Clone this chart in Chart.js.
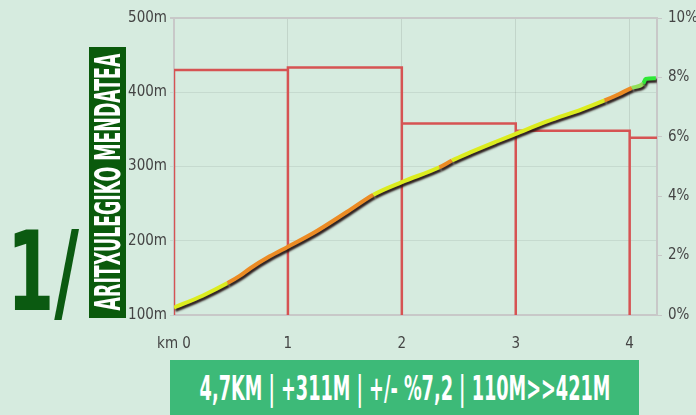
<!DOCTYPE html>
<html>
<head>
<meta charset="utf-8">
<script src="https://cdn.jsdelivr.net/npm/chart.js@4.4.0/dist/chart.umd.min.js"></script>
<style>
  html, body { margin: 0; padding: 0; }
  body { width: 696px; height: 415px; background: #d6ebdf; position: relative; overflow: hidden;
         font-family: 'Liberation Sans Narrow', 'DejaVu Sans Condensed', sans-serif; }
  #profile { position: absolute; left: 0; top: 0; }
  .holder { position: absolute; }
  .fit { position: absolute; left: 50%; top: 50%; white-space: nowrap; font-weight: bold; line-height: 1; }
  .big { left: 6px; top: 226px; width: 74px; height: 92px; }
  .big .fit { color: #0b5a11; font-size: 110px; }
  .nameBox { left: 89px; top: 47px; width: 37px; height: 271px; background: #0a5a0c; }
  .nameBox .rot { position: absolute; left: -117px; top: 117px; width: 271px; height: 37px; transform: rotate(-90deg); }
  .nameBox .fit { color: #fff; font-size: 35px; }
  .banner { left: 170px; top: 360px; width: 469px; height: 55px; background: #3dba78; }
  .banner .fit { color: #fff; font-size: 33px; }
</style>
</head>
<body>
<canvas id="profile" width="696" height="415"></canvas>
<div class="holder big"><span class="fit" id="num">1/</span></div>
<div class="holder nameBox"><div class="rot"><span class="fit" id="name">ARITXULEGIKO MENDATEA</span></div></div>
<div class="holder banner"><span class="fit" id="stats">4,7KM | +311M | +/- %7,2 | 110M&gt;&gt;421M</span></div>
<script>
// ticks
const kmTicks = [0, 1, 2, 3, 4];
const elevTicks = [100, 200, 300, 400, 500];
const gradeTicks = [0, 2, 4, 6, 8, 10];

// elevation profile (km, m)
const profileKm = [0, 0.25, 0.47, 0.58, 0.67, 0.84, 1.0, 1.22, 1.52, 1.75, 2.0, 2.33, 2.44, 2.6, 2.82, 3.0, 3.28, 3.58, 3.78, 3.9, 4.02, 4.12, 4.14, 4.23];
const profileElev = [110, 126, 143, 153, 163, 179, 192, 210, 239, 262, 279, 299, 308, 319, 333, 344, 361, 377, 389, 397, 406, 412, 418, 419];

// colour bands along the line (start km + gradient class)
const bandStart = [0, 0.47, 1.75, 2.33, 2.44, 3.78, 4.02, 4.12];
const bandLevel = ['mid', 'steep', 'mid', 'steep', 'mid', 'steep', 'mild', 'low'];

// average gradient per km (%)
const stepKm = [0, 1, 2, 3, 4, 4.24];
const stepGrade = [8.25, 8.33, 6.45, 6.2, 5.97];

const levelColor = { low: '#2ee836', mild: '#93e05a', mid: '#dcec1f', steep: '#ec8b24' };

function bandAt(km) {
    let lvl = bandLevel[0];
    for (let i = 0; i < bandStart.length; i++) {
        if (km >= bandStart[i] - 1e-9) lvl = bandLevel[i];
    }
    return lvl;
}

// step outline: up at each km mark, then across
const stepPoints = [];
for (let i = 0; i < stepGrade.length; i++) {
    stepPoints.push({ x: stepKm[i], y: 0 });
    stepPoints.push({ x: stepKm[i], y: stepGrade[i] });
    stepPoints.push({ x: stepKm[i + 1], y: stepGrade[i] });
}

const tickFont = { family: "'Liberation Sans Narrow', 'DejaVu Sans Condensed', sans-serif", size: 15 };
const frame = '#c8c8c8';

const shadowPlugin = {
    id: 'lineShadow',
    beforeDatasetDraw(chart, args) {
        if (args.index !== 0) return;
        const c = chart.ctx;
        c.save();
        c.shadowColor = 'rgba(35,18,18,0.95)';
        c.shadowOffsetX = 1.5;
        c.shadowOffsetY = 2.5;
        c.shadowBlur = 2;
    },
    afterDatasetDraw(chart, args) {
        if (args.index === 0) chart.ctx.restore();
    }
};

new Chart(document.getElementById('profile'), {
    type: 'line',
    data: {
        datasets: [{
            data: profileKm.map((k, i) => ({ x: k, y: profileElev[i] })),
            yAxisID: 'y',
            borderWidth: 4,
            borderColor: levelColor.mid,
            pointRadius: 0,
            cubicInterpolationMode: 'monotone',
            segment: {
                borderColor: ctx => levelColor[bandAt(ctx.p0.parsed.x)]
            }
        }, {
            data: stepPoints,
            yAxisID: 'y1',
            borderColor: '#d65353',
            borderWidth: 2.5,
            pointRadius: 0,
            tension: 0
        }]
    },
    options: {
        responsive: false,
        animation: false,
        layout: { padding: { top: 18, left: 0, right: 0, bottom: 0 } },
        plugins: { legend: { display: false }, tooltip: { enabled: false } },
        scales: {
            x: {
                type: 'linear',
                min: 0,
                max: 4.24,
                afterBuildTicks: s => { s.ticks = kmTicks.map(v => ({ value: v })); },
                afterFit: s => { s.height = 100; },
                ticks: { font: tickFont, color: '#444', padding: 20, maxRotation: 0,
                         callback: v => v === 0 ? 'km 0' : String(v) },
                grid: { color: 'rgba(0,0,0,0.09)', drawTicks: false },
                border: { color: frame, width: 2 }
            },
            y: {
                position: 'left',
                min: 100,
                max: 500,
                afterBuildTicks: s => { s.ticks = elevTicks.map(v => ({ value: v })); },
                afterFit: s => { s.width = 174; },
                ticks: { font: tickFont, color: '#444', padding: 3, callback: v => v + 'm' },
                grid: {
                    color: c => (c.tick && c.tick.value === 500) ? frame : 'rgba(0,0,0,0.07)',
                    lineWidth: c => (c.tick && c.tick.value === 500) ? 2 : 1,
                    tickLength: 4
                },
                border: { color: frame, width: 2 }
            },
            y1: {
                position: 'right',
                min: 0,
                max: 10,
                afterBuildTicks: s => { s.ticks = gradeTicks.map(v => ({ value: v })); },
                afterFit: s => { s.width = 39; },
                ticks: { font: tickFont, color: '#444', padding: 6, callback: v => v + '%' },
                grid: { drawOnChartArea: false, color: frame, tickLength: 5 },
                border: { color: frame, width: 2 }
            }
        }
    },
    plugins: [shadowPlugin]
});

// squeeze the condensed captions to their box length
function fitWidth(id, target) {
    const el = document.getElementById(id);
    const w = el.offsetWidth;
    el.style.transform = 'translate(-50%, -50%) scaleX(' + (target / w) + ')';
}
fitWidth('num', 72);
fitWidth('name', 257);
fitWidth('stats', 411);
</script>
</body>
</html>
